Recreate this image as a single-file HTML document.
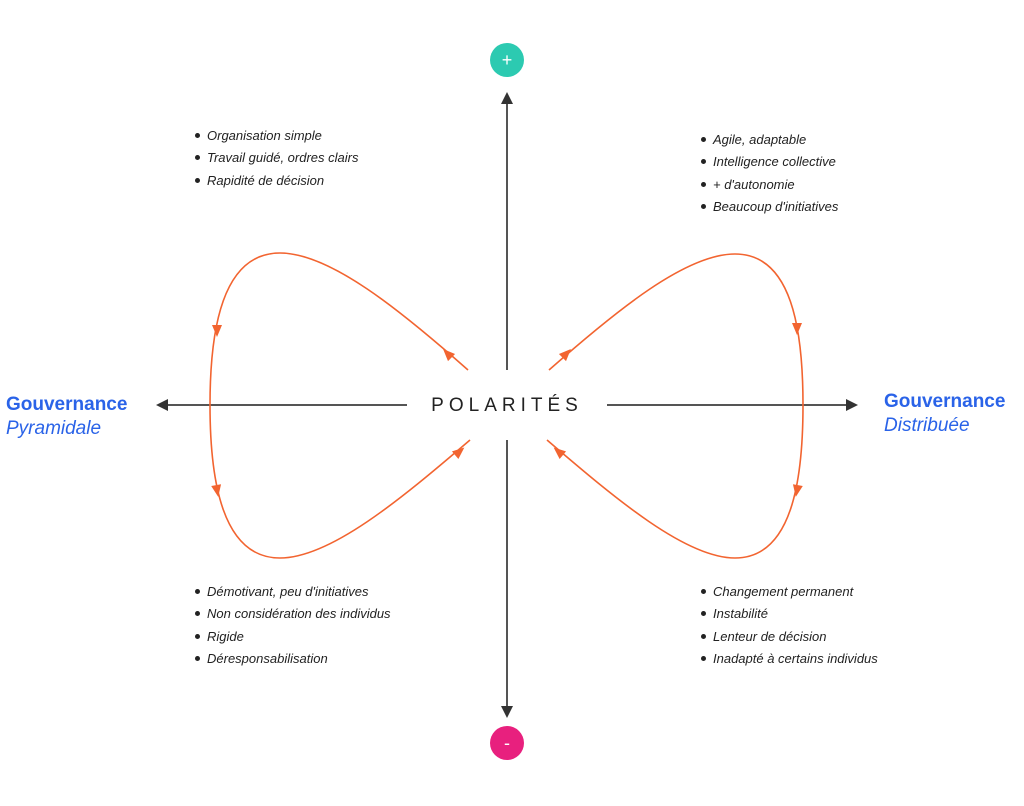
<!DOCTYPE html>
<html><head><meta charset="utf-8"><style>
body{margin:0;background:#fff;width:1024px;height:806px;overflow:hidden;position:relative;font-family:"Liberation Sans",sans-serif}
.l{position:absolute;font-style:italic;font-size:13px;color:#222;line-height:22.4px;margin:0;padding:0;list-style:none}
.l li:before{content:"";display:inline-block;width:5px;height:5px;border-radius:50%;background:#222;margin-right:7px;vertical-align:2px}
.g{position:absolute;color:#2a63e8;font-size:19px;line-height:24px}
</style></head><body>
<svg width="1024" height="806" style="position:absolute;left:0;top:0">
<g stroke="#555" stroke-width="2">
<line x1="507" y1="102" x2="507" y2="370"/><line x1="507" y1="440" x2="507" y2="708"/>
<line x1="165" y1="405" x2="407" y2="405"/><line x1="607" y1="405" x2="850" y2="405"/>
</g>
<g fill="#333">
<polygon points="507,92 501,104 513,104"/><polygon points="507,718 501,706 513,706"/>
<polygon points="156,405 168,399 168,411"/><polygon points="858,405 846,399 846,411"/>
</g>
<circle cx="507" cy="60" r="17" fill="#2ccab1"/><circle cx="507" cy="743" r="17" fill="#e8207e"/>
<text x="507" y="66" fill="#fff" font-size="18" text-anchor="middle">+</text>
<text x="507" y="749" fill="#fff" font-size="18" text-anchor="middle">-</text>
<g fill="none" stroke="#f26430" stroke-width="1.6">
<path d="M468,370 C400,310 330,253 280,253 C222,253 210,330 210,405 C210,480 222,558 280,558 C330,558 400,500 470,440"/>
<path d="M549,370 C617,310 686,254 735,254 C792,254 803,330 803,405 C803,480 792,558 735,558 C686,558 617,500 547,440"/>
</g>
<g fill="#f26430">
<polygon points="0,-7 5,5 -5,5" transform="translate(217,330) rotate(180)"/>
<polygon points="0,-7 5,5 -5,5" transform="translate(217,490) rotate(170)"/>
<polygon points="0,-7 5,5 -5,5" transform="translate(797,328) rotate(180)"/>
<polygon points="0,-7 5,5 -5,5" transform="translate(797,490) rotate(190)"/>
<polygon points="0,-7 5,5 -5,5" transform="translate(448,354) rotate(-45)"/>
<polygon points="0,-7 5,5 -5,5" transform="translate(459,452) rotate(50)"/>
<polygon points="0,-7 5,5 -5,5" transform="translate(566,354) rotate(45)"/>
<polygon points="0,-7 5,5 -5,5" transform="translate(559,452) rotate(-50)"/>
</g>
<text x="507" y="411" font-size="19" letter-spacing="5" fill="#222" text-anchor="middle">POLARITÉS</text>
</svg>
<ul class="l" style="left:195px;top:125px"><li>Organisation simple</li><li>Travail guidé, ordres clairs</li><li>Rapidité de décision</li></ul>
<ul class="l" style="left:701px;top:129px"><li>Agile, adaptable</li><li>Intelligence collective</li><li>+ d'autonomie</li><li>Beaucoup d'initiatives</li></ul>
<ul class="l" style="left:195px;top:581px"><li>Démotivant, peu d'initiatives</li><li>Non considération des individus</li><li>Rigide</li><li>Déresponsabilisation</li></ul>
<ul class="l" style="left:701px;top:581px"><li>Changement permanent</li><li>Instabilité</li><li>Lenteur de décision</li><li>Inadapté à certains individus</li></ul>
<div class="g" style="left:6px;top:393px"><b>Gouvernance</b><br><i>Pyramidale</i></div>
<div class="g" style="left:884px;top:390px"><b>Gouvernance</b><br><i>Distribuée</i></div>
</body></html>
